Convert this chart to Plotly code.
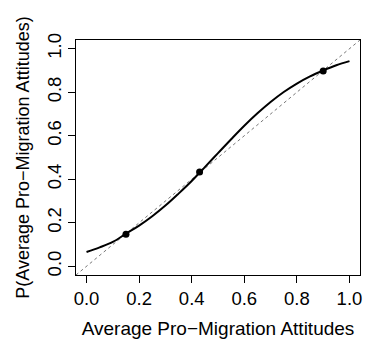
import plotly.graph_objects as go

# Fitted curve
curve_x = [0.0, 0.05, 0.10, 0.15, 0.20, 0.25, 0.30, 0.35, 0.40, 0.43, 0.45, 0.50,
           0.55, 0.60, 0.65, 0.70, 0.75, 0.80, 0.85, 0.90, 0.95, 1.0]
curve_y = [0.066, 0.087, 0.112, 0.150, 0.187, 0.230, 0.279, 0.334, 0.392, 0.430, 0.456, 0.520,
           0.584, 0.646, 0.703, 0.755, 0.801, 0.840, 0.873, 0.900, 0.924, 0.943]

# Highlighted points
pts_x = [0.15, 0.43, 0.90]
pts_y = [0.147, 0.433, 0.898]

tick_vals = [0.0, 0.2, 0.4, 0.6, 0.8, 1.0]
tick_text = ["0.0", "0.2", "0.4", "0.6", "0.8", "1.0"]

x_title = "Average Pro\u2212Migration Attitudes"
y_title = "P(Average Pro\u2212Migration Attitudes)"

FONT = "Liberation Sans, Arial, Helvetica, sans-serif"

fig = go.Figure()
fig.add_trace(go.Scatter(x=curve_x, y=curve_y, mode="lines",
                         line=dict(color="black", width=2, shape="spline"),
                         hoverinfo="skip"))
fig.add_trace(go.Scatter(x=pts_x, y=pts_y, mode="markers",
                         marker=dict(color="black", size=7), hoverinfo="skip"))

# abline(0, 1): diagonal across the (square-range) plotting region
fig.add_shape(type="line", xref="paper", yref="paper", x0=0, y0=0, x1=1, y1=1,
              line=dict(color="#777777", width=1, dash="dot"), layer="below")

axis_common = dict(
    range=[-0.04, 1.04], tickmode="array", tickvals=tick_vals, ticktext=tick_text,
    ticks="outside", ticklen=7, tickwidth=1, tickcolor="black",
    showline=True, linecolor="black", linewidth=1, mirror=True,
    showgrid=False, zeroline=False,
    tickfont=dict(family=FONT, size=18.5, color="black"),
)

fig.update_xaxes(**axis_common,
                 title=dict(text=x_title, font=dict(family=FONT, size=19, color="black"), standoff=13))
fig.update_yaxes(**axis_common, tickangle=-90,
                 title=dict(text=y_title, font=dict(family=FONT, size=18, color="black"), standoff=9))

fig.update_layout(
    width=365, height=341,
    margin=dict(l=76, r=3, t=40, b=66),
    paper_bgcolor="white", plot_bgcolor="white",
    showlegend=False,
)

fig.write_html("out.html")
